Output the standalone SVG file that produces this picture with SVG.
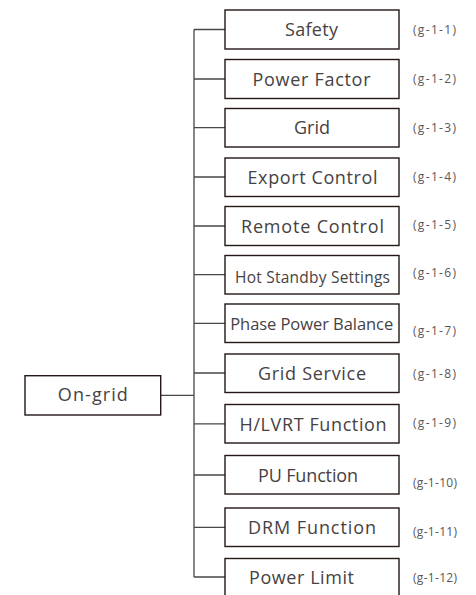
<svg xmlns="http://www.w3.org/2000/svg" width="476" height="595" viewBox="0 0 476 595">
<style>
.box{fill:#fff;stroke:#231815;stroke-width:1.4}
.t{font-family:"Open Sans","Liberation Sans",sans-serif;font-size:18px;fill:#464243;text-anchor:middle}
.lb{font-family:"Open Sans","Liberation Sans",sans-serif;font-size:12px;fill:#5a5657}
.c{fill:none;stroke:#4a4546;stroke-width:1.3}
</style>
<rect width="476" height="595" fill="#fff"/>
<g id="connectors">
<path class="c" d="M160.7 395.3H194M194 29.5V577M194 29.5H225M194 79H225M194 127.7H225M194 177H225M194 226H225M194 274.7H225M194 323.3H225M194 373H225M194 423.8H225M194 475H225M194 527.3H225M194 577H225"/>
</g>
<g id="on-grid">
<rect class="box" x="25" y="375.7" width="135.7" height="39.3"/>
<text class="t" x="92.8" y="401" textLength="70">On-grid</text>
</g>
<g id="safety">
<rect class="box" x="225" y="10" width="174" height="39"/>
<text class="t" x="311.5" y="36" textLength="53">Safety</text>
<text class="lb" x="413" y="33.5" textLength="43">(g-1-1)</text>
</g>
<g id="power-factor">
<rect class="box" x="225" y="59.5" width="174" height="39"/>
<text class="t" x="311.5" y="85.5" textLength="118">Power Factor</text>
<text class="lb" x="413" y="82.5" textLength="43">(g-1-2)</text>
</g>
<g id="grid">
<rect class="box" x="225" y="108.5" width="174" height="38.5"/>
<text class="t" x="312" y="134" textLength="36">Grid</text>
<text class="lb" x="413" y="131.5" textLength="43">(g-1-3)</text>
</g>
<g id="export-control">
<rect class="box" x="225" y="158" width="174" height="38.5"/>
<text class="t" x="312.5" y="184" textLength="130">Export Control</text>
<text class="lb" x="413" y="180.5" textLength="43">(g-1-4)</text>
</g>
<g id="remote-control">
<rect class="box" x="225" y="206.5" width="174" height="39"/>
<text class="t" x="312.5" y="232.5" textLength="143">Remote Control</text>
<text class="lb" x="413" y="229" textLength="43">(g-1-5)</text>
</g>
<g id="hot-standby">
<rect class="box" x="225" y="255.5" width="174" height="38.5"/>
<text class="t" x="312.5" y="283" style="font-size:15.5px" textLength="155">Hot Standby Settings</text>
<text class="lb" x="413" y="277" textLength="43">(g-1-6)</text>
</g>
<g id="phase-power-balance">
<rect class="box" x="225" y="304" width="174" height="38.5"/>
<text class="t" x="311.7" y="329.5" style="font-size:16.5px" textLength="163">Phase Power Balance</text>
<text class="lb" x="413" y="335" textLength="43">(g-1-7)</text>
</g>
<g id="grid-service">
<rect class="box" x="225" y="354" width="174" height="38.5"/>
<text class="t" x="312" y="379.5" textLength="108">Grid Service</text>
<text class="lb" x="413" y="377.5" textLength="43">(g-1-8)</text>
</g>
<g id="hlvrt">
<rect class="box" x="225" y="404.5" width="174" height="38.5"/>
<text class="t" x="313" y="431" textLength="147">H/LVRT Function</text>
<text class="lb" x="413" y="427" textLength="43">(g-1-9)</text>
</g>
<g id="pu-function">
<rect class="box" x="225" y="455.5" width="174" height="38.5"/>
<text class="t" x="308" y="481.5" textLength="100">PU Function</text>
<text class="lb" x="413" y="487" textLength="44">(g-1-10)</text>
</g>
<g id="drm-function">
<rect class="box" x="225" y="508" width="174" height="38.5"/>
<text class="t" x="312" y="534" textLength="128">DRM Function</text>
<text class="lb" x="413" y="536" textLength="44">(g-1-11)</text>
</g>
<g id="power-limit">
<rect class="box" x="225" y="558.5" width="174" height="40"/>
<text class="t" x="301.5" y="584" textLength="105">Power Limit</text>
<text class="lb" x="413" y="582" textLength="44">(g-1-12)</text>
</g>
</svg>
